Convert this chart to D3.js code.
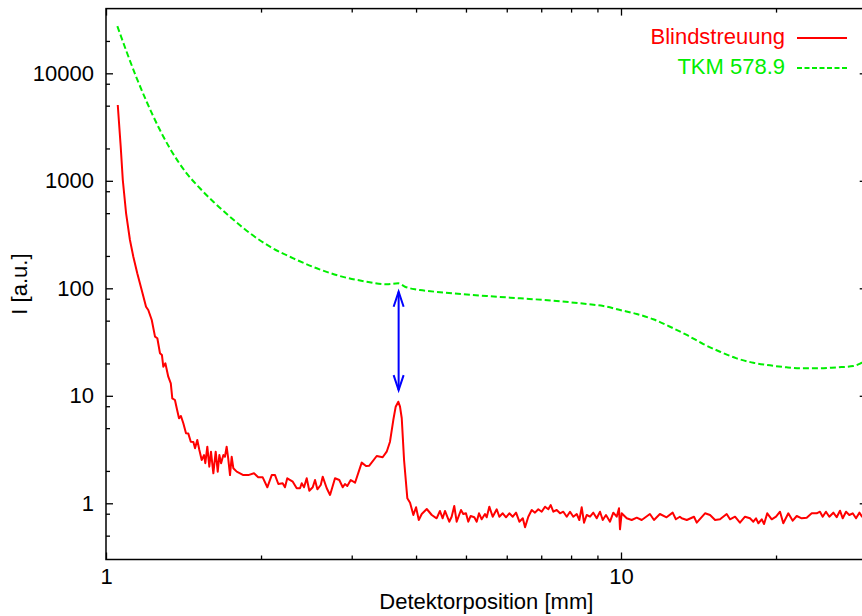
<!DOCTYPE html>
<html>
<head>
<meta charset="utf-8">
<script src="https://cdn.jsdelivr.net/npm/d3@7"></script>
<style>
  body { margin: 0; background: #fff; }
  svg { display: block; font-family: "Liberation Sans", Arial, sans-serif; }
</style>
</head>
<body>
<div id="chart-area"></div>
<script>
'use strict';

// Blindstreuung (red, solid)
const blindX = [1.054, 1.068, 1.078, 1.094, 1.113, 1.130, 1.150, 1.173, 1.196, 1.208,
  1.227, 1.245, 1.258, 1.273, 1.284, 1.292, 1.304, 1.321, 1.336, 1.345,
  1.361, 1.372, 1.386, 1.398, 1.413, 1.430, 1.445, 1.461, 1.478, 1.489,
  1.504, 1.518, 1.534, 1.550, 1.559, 1.573, 1.587, 1.599, 1.616, 1.633,
  1.648, 1.660, 1.673, 1.690, 1.702, 1.715, 1.727, 1.741, 1.754, 1.767,
  1.794, 1.848, 1.889, 1.938, 1.975, 2.015, 2.057, 2.098, 2.129, 2.161,
  2.203, 2.226, 2.249, 2.305, 2.346, 2.381, 2.399, 2.424, 2.453, 2.482,
  2.520, 2.546, 2.573, 2.612, 2.635, 2.683, 2.723, 2.784, 2.838, 2.882,
  2.911, 2.941, 2.987, 3.045, 3.137, 3.198, 3.245, 3.355, 3.445, 3.508,
  3.560, 3.613, 3.652, 3.695, 3.723, 3.752, 3.791, 3.847, 3.894, 3.952,
  4.000, 4.049, 4.103, 4.196, 4.291, 4.385, 4.451, 4.505, 4.552, 4.640,
  4.690, 4.745, 4.796, 4.890, 4.940, 5.000, 5.052, 5.106, 5.190, 5.246,
  5.300, 5.364, 5.444, 5.486, 5.550, 5.635, 5.737, 5.804, 5.893, 5.981,
  6.070, 6.163, 6.255, 6.348, 6.446, 6.512, 6.607, 6.709, 6.808, 6.909,
  7.015, 7.120, 7.226, 7.304, 7.389, 7.502, 7.614, 7.727, 7.846, 7.962,
  8.080, 8.204, 8.300, 8.389, 8.476, 8.579, 8.707, 8.836, 8.971, 9.105,
  9.216, 9.351, 9.520, 9.662, 9.810, 9.911, 9.955, 10.03, 10.26, 10.49,
  10.73, 10.97, 11.38, 11.59, 11.90, 12.26, 12.60, 12.78, 13.01, 13.12,
  13.42, 13.86, 14.03, 14.56, 14.89, 15.23, 15.57, 16.04, 16.28, 16.65,
  17.02, 17.41, 17.80, 18.07, 18.29, 18.48, 18.76, 18.96, 19.23, 19.62,
  20.00, 20.36, 20.66, 21.13, 21.55, 21.94, 22.43, 22.94, 23.46, 23.99,
  24.34, 24.64, 25.00, 25.38, 25.84, 26.23, 26.62, 26.95, 27.35, 27.75,
  28.18, 28.60, 29.03, 29.38, 30.0];
const blindY = [5070, 2076, 1017, 498.6, 281.4, 196.8, 137.9, 96.4, 67.4, 62.8,
  50.7, 35.5, 34.3, 24.9, 24.0, 18.65, 20.06, 15.06, 13.07, 9.48,
  9.14, 7.65, 6.18, 6.49, 5.55, 4.48, 4.45, 3.74, 3.72, 3.25,
  3.88, 3.13, 2.53, 2.81, 2.36, 3.36, 2.19, 3.02, 1.90, 3.02,
  1.97, 2.81, 2.36, 2.81, 2.71, 3.36, 2.62, 1.83, 2.71, 2.12,
  1.97, 1.83, 1.83, 1.90, 1.745, 1.745, 1.409, 1.83, 1.83, 1.512,
  1.535, 1.409, 1.708, 1.588, 1.379, 1.379, 1.535, 1.409, 1.708, 1.310,
  1.409, 1.647, 1.350, 1.480, 1.768, 1.379, 1.195, 1.708, 1.647, 1.409,
  1.512, 1.448, 1.647, 1.554, 2.39, 2.22, 2.24, 2.754, 2.68, 3.02,
  3.74, 5.95, 7.92, 8.81, 7.92, 6.18, 2.53, 1.113, 1.013, 0.778,
  0.918, 0.699, 0.795, 0.885, 0.778, 0.725, 0.848, 0.725, 0.848, 0.674,
  0.750, 0.944, 0.674, 0.866, 0.795, 0.807, 0.674, 0.762, 0.741, 0.674,
  0.807, 0.710, 0.795, 0.741, 0.930, 0.750, 0.880, 0.750, 0.807, 0.741,
  0.807, 0.750, 0.818, 0.674, 0.725, 0.598, 0.750, 0.866, 0.818, 0.880,
  0.835, 0.930, 0.880, 0.964, 0.835, 0.866, 0.807, 0.835, 0.750, 0.835,
  0.750, 0.795, 0.699, 0.918, 0.660, 0.778, 0.750, 0.818, 0.725, 0.835,
  0.699, 0.778, 0.674, 0.818, 0.750, 0.898, 0.573, 0.807, 0.725, 0.699,
  0.735, 0.699, 0.795, 0.699, 0.795, 0.741, 0.818, 0.710, 0.750, 0.725,
  0.699, 0.750, 0.660, 0.807, 0.778, 0.699, 0.710, 0.795, 0.710, 0.750,
  0.660, 0.750, 0.725, 0.674, 0.725, 0.652, 0.710, 0.642, 0.807, 0.710,
  0.750, 0.835, 0.652, 0.807, 0.689, 0.762, 0.725, 0.735, 0.807, 0.807,
  0.835, 0.750, 0.835, 0.750, 0.818, 0.741, 0.853, 0.725, 0.835, 0.778,
  0.807, 0.725, 0.818, 0.750, 0.78];

// TKM 578.9 (green, dashed)
const tkmX = [1.052, 1.097, 1.147, 1.200, 1.264, 1.331, 1.434, 1.522, 1.616, 1.741,
  1.904, 2.082, 2.311, 2.566, 2.847, 3.209, 3.508, 3.695, 3.807, 3.981,
  4.071, 4.725, 5.486, 6.367, 7.389, 8.579, 9.24, 9.96, 10.73, 11.55,
  12.45, 13.42, 14.45, 15.57, 16.77, 18.07, 19.47, 20.98, 22.59, 24.34,
  26.23, 28.25, 29.34, 30.0];
const tkmY = [27500, 15780, 9040, 5410, 3170, 2000, 1174, 852, 639, 463,
  325, 244, 190, 153.5, 130, 115.2, 109, 111.3, 103.5, 97.9,
  96.4, 89.8, 84.8, 80.7, 76.7, 71.4, 68.4, 62.8, 57.7, 51.5,
  43.9, 36.8, 30.3, 25.7, 22.3, 20.3, 19.2, 18.4, 18.0, 18.0,
  18.4, 18.9, 20.3, 21.5];

const seriesNames = ['Blindstreuung', 'TKM 578.9'];
const xTicks = [1, 10];
const xMinor = [2, 3, 4, 5, 6, 7, 8, 9, 20, 30];
const yTicks = [1, 10, 100, 1000, 10000];
const yMinor = [0.5, 0.8, 2, 5, 8, 20, 50, 80, 200, 500, 800, 2000, 5000, 8000, 20000];

// double arrow between the curves at the peak
const arrowX = 3.7;
const arrowLow = 11.3;
const arrowHigh = 93;

const W = 862, H = 616;
const mLeft = 106, mTop = 8.6, mBottom = 559.5;
const mRight = mLeft + 515 * Math.log10(30);

let svg = d3.select('#chart-area').append('svg')
    .attr('width', W)
    .attr('height', H);

let x = d3.scaleLog()
    .domain([1, 30])
    .range([mLeft, mRight]);

let y = d3.scaleLog()
    .domain([0.3, 40000])
    .range([mBottom, mTop]);

svg.append('defs').append('clipPath').attr('id', 'clip')
  .append('rect')
    .attr('x', mLeft).attr('y', mTop)
    .attr('width', mRight - mLeft).attr('height', mBottom - mTop);

const fs = 22;

function styleAxis(g) {
    g.select('.domain').remove();
    g.selectAll('.tick line').attr('stroke', '#000').attr('stroke-width', 1.3);
    g.selectAll('text').attr('font-size', fs).attr('font-family', '"Liberation Sans", Arial, sans-serif').attr('fill', '#000');
}

// bottom axis
svg.append('g')
    .attr('transform', `translate(0,${mBottom})`)
    .call(d3.axisBottom(x).tickValues(xTicks).tickFormat(d3.format('d')).tickSize(-7).tickPadding(9))
    .call(styleAxis);
svg.append('g')
    .attr('transform', `translate(0,${mBottom})`)
    .call(d3.axisBottom(x).tickValues(xMinor).tickFormat('').tickSize(-4))
    .call(styleAxis);
// top mirror
svg.append('g')
    .attr('transform', `translate(0,${mTop})`)
    .call(d3.axisTop(x).tickValues(xTicks).tickFormat('').tickSize(-7))
    .call(styleAxis);
svg.append('g')
    .attr('transform', `translate(0,${mTop})`)
    .call(d3.axisTop(x).tickValues(xMinor).tickFormat('').tickSize(-4))
    .call(styleAxis);

// left axis
svg.append('g')
    .attr('transform', `translate(${mLeft},0)`)
    .call(d3.axisLeft(y).tickValues(yTicks).tickFormat(d3.format('d')).tickSize(-7).tickPadding(12))
    .call(styleAxis);
svg.append('g')
    .attr('transform', `translate(${mLeft},0)`)
    .call(d3.axisLeft(y).tickValues(yMinor).tickFormat('').tickSize(-4))
    .call(styleAxis);
// right mirror
svg.append('g')
    .attr('transform', `translate(${mRight},0)`)
    .call(d3.axisRight(y).tickValues(yTicks).tickFormat('').tickSize(-7))
    .call(styleAxis);
svg.append('g')
    .attr('transform', `translate(${mRight},0)`)
    .call(d3.axisRight(y).tickValues(yMinor).tickFormat('').tickSize(-4))
    .call(styleAxis);

// frame
svg.append('rect')
    .attr('x', mLeft).attr('y', mTop)
    .attr('width', mRight - mLeft).attr('height', mBottom - mTop)
    .attr('fill', 'none')
    .attr('stroke', '#000')
    .attr('stroke-width', 1.5);

let line = d3.line()
    .x((d) => x(d[0]))
    .y((d) => y(d[1]));

let smoothLine = d3.line()
    .x((d) => x(d[0]))
    .y((d) => y(d[1]))
    .curve(d3.curveMonotoneX);

let plot = svg.append('g').attr('clip-path', 'url(#clip)');

plot.append('path')
    .datum(tkmX.map((v, i) => [v, tkmY[i]]))
    .attr('d', smoothLine)
    .attr('fill', 'none')
    .attr('stroke', '#00ee00')
    .attr('stroke-width', 2)
    .attr('stroke-dasharray', '6,3');

plot.append('path')
    .datum(blindX.map((v, i) => [v, blindY[i]]))
    .attr('d', line)
    .attr('fill', 'none')
    .attr('stroke', '#ff0000')
    .attr('stroke-width', 2)
    .attr('stroke-linejoin', 'round');

// arrow
let ax = x(arrowX), ay1 = y(arrowHigh), ay2 = y(arrowLow);
let arrow = svg.append('g')
    .attr('stroke', '#0000ff')
    .attr('stroke-width', 2)
    .attr('fill', 'none');
arrow.append('line')
    .attr('x1', ax).attr('x2', ax)
    .attr('y1', ay1).attr('y2', ay2);
arrow.append('path')
    .attr('d', `M${ax - 5},${ay1 + 15}L${ax},${ay1}L${ax + 5},${ay1 + 15}`);
arrow.append('path')
    .attr('d', `M${ax - 5},${ay2 - 15}L${ax},${ay2}L${ax + 5},${ay2 - 15}`);

// legend
const legendColors = ['#ff0000', '#00ee00'];
const legendDash = [null, '5,2.5'];
let legend = svg.append('g');
seriesNames.forEach((name, i) => {
    let ly = 38 + i * 30;
    legend.append('text')
        .attr('x', 785)
        .attr('y', ly + 5.5)
        .attr('text-anchor', 'end')
        .attr('font-size', fs)
        .attr('fill', legendColors[i])
        .text(name);
    legend.append('line')
        .attr('x1', 797).attr('x2', 847)
        .attr('y1', ly).attr('y2', ly)
        .attr('stroke', legendColors[i])
        .attr('stroke-width', 2)
        .attr('stroke-dasharray', legendDash[i]);
});

// axis labels
svg.append('text')
    .attr('x', (mLeft + mRight) / 2)
    .attr('y', 609)
    .attr('text-anchor', 'middle')
    .attr('font-size', fs)
    .text('Detektorposition [mm]');

svg.append('text')
    .attr('transform', `translate(27,${(mTop + mBottom) / 2}) rotate(-90)`)
    .attr('text-anchor', 'middle')
    .attr('font-size', fs)
    .text('I [a.u.]');
</script>
</body>
</html>
